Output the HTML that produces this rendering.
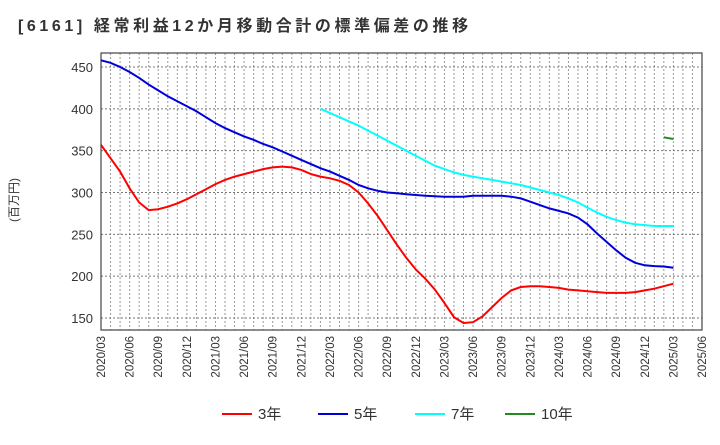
<!DOCTYPE html>
<html><head><meta charset="utf-8"><style>
body{margin:0;background:#fff;width:720px;height:440px;overflow:hidden;font-family:"Liberation Sans","Noto Sans CJK JP",sans-serif}
</style></head><body>
<svg width="720" height="440" xmlns="http://www.w3.org/2000/svg">
<text x="18" y="31" font-size="16" letter-spacing="3.6" font-weight="bold" fill="#333" font-family="Liberation Sans, Noto Sans CJK JP, sans-serif">[6161] 経常利益12か月移動合計の標準偏差の推移</text>
<text transform="translate(18,200) rotate(-90)" font-size="12" fill="#333" text-anchor="middle" font-family="Liberation Sans, Noto Sans CJK JP, sans-serif">(百万円)</text>
<g id="grid"></g><g id="axes"></g><g id="series"></g><g id="legend"></g>
</svg>
<script>
const xLabels=["2020/03","2020/06","2020/09","2020/12","2021/03","2021/06","2021/09","2021/12","2022/03","2022/06","2022/09","2022/12","2023/03","2023/06","2023/09","2023/12","2024/03","2024/06","2024/09","2024/12","2025/03","2025/06"];
const yTicks=[150,200,250,300,350,400,450];
const s3=[357,341,325,305,288,279,280,283,287,292,298,304,310,315,319,322,325,328,330,331,330,327,322,319,317,314,309,300,287,272,255,238,222,208,197,184,168,151,144,145,152,163,174,183,187,188,188,187,186,184,183,182,181,180,180,180,181,183,185,188,191];
const s5=[458,455,450,444,437,429,422,415,409,403,397,390,383,377,372,367,363,358,354,349,344,339,334,329,325,320,315,309,305,302,300,299,298,297,296,295.5,295,295,295,296,296,296,296,295,293,289,285,281,278,275,270,262,251,241,231,222,216,213,212,211.5,210];
const s7=[400,395,390,385,380,374,368,362,356,350,344,338,332,328,324,321,319,317,315,313,311,309,306,303,300,297,293,288,282,276,271,267,264,262,261,260,260,260];
const s7start=23;
const s10=[366,364];
const s10start=59;
const NS="http://www.w3.org/2000/svg";
const L=101,R=702,T=53,B=330,months=63;
const X=i=>L+(R-L)*i/months;
const Y=v=>318-(v-150)*251/300;
function mk(tag,attrs,parent){const e=document.createElementNS(NS,tag);for(const k in attrs)e.setAttribute(k,attrs[k]);parent.appendChild(e);return e;}
const grid=document.getElementById('grid'),axes=document.getElementById('axes'),ser=document.getElementById('series'),leg=document.getElementById('legend');
for(let i=1;i<months;i++){const g=mk('line',{x1:X(i),x2:X(i),y1:T,y2:B,stroke:'#999','stroke-dasharray':'2,2','stroke-width':1},grid);

}
yTicks.forEach(v=>{const g=mk('line',{x1:L,x2:R,y1:Y(v),y2:Y(v),stroke:'#777','stroke-dasharray':'2,2','stroke-width':1},grid);


const t=mk('text',{x:L-8,y:Y(v)+5,'font-size':13,fill:'#333','text-anchor':'end'},axes);t.textContent=v;

});
xLabels.forEach((s,k)=>{const x=X(k*3);const t=mk('text',{transform:`translate(${x+4},336) rotate(-90)`,'font-size':11.5,fill:'#333','text-anchor':'end'},axes);t.textContent=s;

});
const fr=mk('rect',{x:L,y:T,width:R-L,height:B-T,fill:'none',stroke:'#444','stroke-width':1.2},axes);


function line(data,start,color,name){const p=data.map((v,i)=>(i?'L':'M')+X(start+i).toFixed(1)+','+Y(v).toFixed(1)).join('');
const e=mk('path',{d:p,fill:'none',stroke:color,'stroke-width':2},ser);

}
line(s3,0,'#ff0000','series-3y');line(s5,0,'#0000dd','series-5y');line(s7,s7start,'#00ffff','series-7y');line(s10,s10start,'#228b22','series-10y');
const items=[['3年','#ff0000',222],['5年','#0000dd',318],['7年','#00ffff',415],['10年','#228b22',505]];
items.forEach(([n,c,x])=>{const g=mk('g',{},leg);


mk('line',{x1:x,x2:x+30,y1:414,y2:414,stroke:c,'stroke-width':2},g);
const t=mk('text',{x:x+36,y:419,'font-size':15,fill:'#333'},g);t.textContent=n;});
</script>
</body></html>
